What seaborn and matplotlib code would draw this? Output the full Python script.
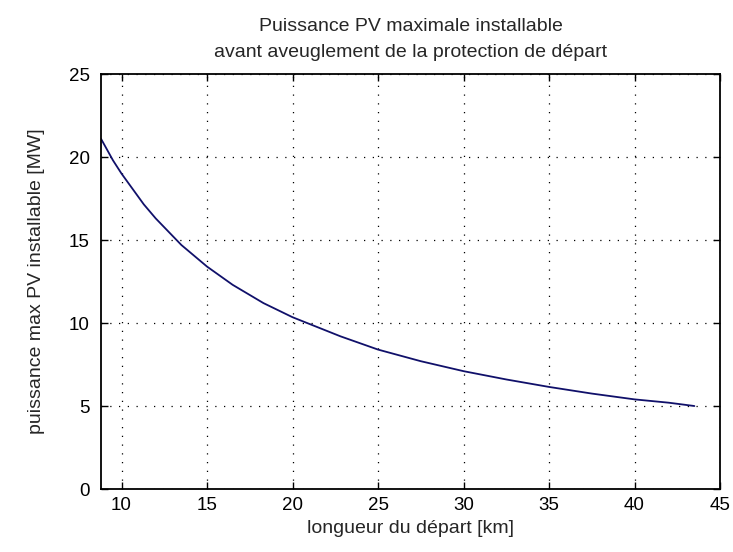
import matplotlib
matplotlib.use("Agg")
import matplotlib.pyplot as plt
import seaborn as sns
import pandas as pd

# Feeder length (km) and maximum installable PV power (MW) before protection blinding
longueur_km = [8.8, 9.5, 10.0, 11.3, 12.0, 13.5, 15.0, 16.5, 18.3, 20.0,
               22.8, 25.0, 27.5, 30.0, 32.5, 35.0, 37.5, 40.0, 42.0, 43.5]
puissance_mw = [21.1, 19.8, 19.0, 17.15, 16.3, 14.7, 13.4, 12.3, 11.2, 10.35,
                9.2, 8.4, 7.7, 7.1, 6.6, 6.15, 5.75, 5.4, 5.2, 5.0]

x_ticks = [10, 15, 20, 25, 30, 35, 40, 45]
y_ticks = [0, 5, 10, 15, 20, 25]

titre = "Puissance PV maximale installable\navant aveuglement de la protection de départ"
label_x = "longueur du départ [km]"
label_y = "puissance max PV installable [MW]"

df = pd.DataFrame({"longueur": longueur_km, "puissance": puissance_mw})

sns.set_style("ticks")
plt.rcParams["font.family"] = ["Liberation Sans", "DejaVu Sans"]

fig = plt.figure(figsize=(7.33, 5.52), dpi=100)
ax = fig.add_axes([0.1378, 0.1141, 0.8445, 0.7518])

sns.lineplot(data=df, x="longueur", y="puissance", ax=ax,
             color="#10106a", linewidth=1.3)

ax.set_xlim(8.8, 45)
ax.set_ylim(0, 25)
ax.set_xticks(x_ticks)
ax.set_yticks(y_ticks)

# dotted black grid, boxed axes with inward ticks on every side
ax.grid(True, color="black", linestyle=(0, (1, 6)), linewidth=0.9)
for s in ax.spines.values():
    s.set_visible(True)
    s.set_color("black")
    s.set_linewidth(1.3)

ax.tick_params(direction="in", length=5, width=1, top=True, right=True,
               labelsize=13.5, colors="black")
ax.tick_params(axis="x", pad=6)
ax.tick_params(axis="y", pad=8)

ax.set_title(titre, fontsize=14, linespacing=1.7, pad=12)
ax.set_xlabel(label_x, fontsize=14)
ax.set_ylabel(label_y, fontsize=14)
ax.xaxis.set_label_coords(0.5, -0.075)
ax.yaxis.set_label_coords(-0.09, 0.5)

fig.savefig("out.png", dpi=100, facecolor="white")
